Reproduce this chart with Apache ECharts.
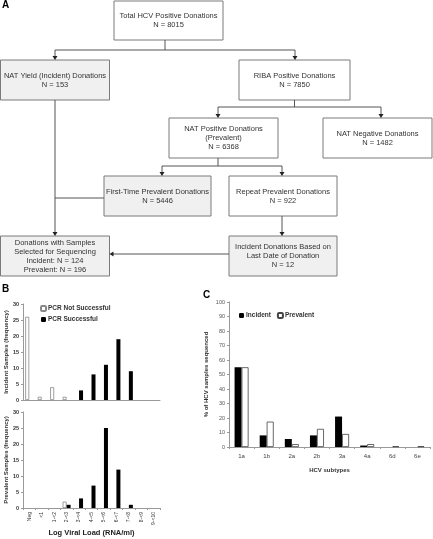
<!DOCTYPE html>
<html><head><meta charset="utf-8">
<script src="https://cdn.jsdelivr.net/npm/echarts@6/dist/echarts.min.js"></script>
<style>html,body{margin:0;padding:0;background:#fff}#c{width:433px;height:539px}</style>
</head><body><div id="c"></div>
<script>
// ---- Panel A data ----
const flowTitles = ['Total HCV Positive Donations','NAT Yield (Incident) Donations','RIBA Positive Donations','NAT Positive Donations\n(Prevalent)','NAT Negative Donations','First-Time Prevalent Donations','Repeat Prevalent Donations','Donations with Samples\nSelected for Sequencing','Incident Donations Based on\nLast Date of Donation'];
const flowCounts = ['N = 8015','N = 153','N = 7850','N = 6368','N = 1482','N = 5446','N = 922','Incident: N = 124\nPrevalent: N = 196','N = 12'];
// ---- Panel B data ----
const viralLoadBins = ['Neg','<1','1-<2','2-<3','3-<4','4-<5','5-<6','6-<7','7-<8','8-<9','9-<10'];
const incidentNotSuccessful = [26,1,4,1,0,0,0,0,0,0,0];
const incidentSuccessful    = [0,0,0,0,3,8,11,19,9,0,0];
const prevalentNotSuccessful= [0,0,0,2,0,0,0,0,0,0,0];
const prevalentSuccessful   = [0,0,0,1,3,7,25,12,1,0,0];
// ---- Panel C data ----
const subtypes = ['1a','1b','2a','2b','3a','4a','6d','6e'];
const pctIncident  = [55,8,5.5,8,21,1,0,0];
const pctPrevalent = [55,17.5,2,12.5,9,2,0.5,0.5];

const FONT = 'Liberation Sans';
const nz = arr => arr.map(v => v === 0 ? '-' : v);
// flowchart layout
const boxes = [
  {x:114,y:1,w:109,h:39,fill:'#fff'},
  {x:0.5,y:60,w:109,h:40,fill:'#f0f0f0'},
  {x:239,y:60,w:111,h:40,fill:'#fff'},
  {x:169,y:118,w:109,h:40,fill:'#fff'},
  {x:323,y:118,w:109,h:40,fill:'#fff'},
  {x:104,y:176,w:107,h:40,fill:'#f0f0f0'},
  {x:229,y:176,w:108,h:40,fill:'#fff'},
  {x:0.5,y:236,w:109,h:40,fill:'#f0f0f0'},
  {x:229,y:236,w:108,h:40,fill:'#f0f0f0'}
];
const lines = [
  [[165,40],[165,50]],[[55,50],[295,50]],[[55,50],[55,57]],[[295,50],[295,57]],
  [[294.5,100],[294.5,107]],[[218,107],[381,107]],[[218,107],[218,115]],[[381,107],[381,115]],
  [[218,158],[218,166]],[[162,166],[282,166]],[[162,166],[162,173]],[[282,166],[282,173]],
  [[55,100],[55,233]],[[104,198],[55,198]],
  [[282,216],[282,233]],
  [[229,254],[112,254]]
];
const arrows = [[55,60,'d'],[295,60,'d'],[218,118,'d'],[381,118,'d'],[162,176,'d'],[282,176,'d'],[55,236,'d'],[282,236,'d'],[109.5,254,'l']];

const graphic = [];
boxes.forEach((b,i)=>{
  graphic.push({type:'rect',shape:{x:b.x,y:b.y,width:b.w,height:b.h},style:{fill:b.fill,stroke:'#7a7a7a',lineWidth:1}});
  graphic.push({type:'text',x:b.x+b.w/2,y:b.y+b.h/2,style:{text:flowTitles[i]+'\n'+flowCounts[i],fontFamily:FONT,fontSize:7.5,lineHeight:9,fill:'#333',align:'center',verticalAlign:'middle'}});
});
lines.forEach(l=>graphic.push({type:'polyline',shape:{points:l},style:{stroke:'#555',lineWidth:1}}));
arrows.forEach(a=>{
  const [x,y,d]=a;
  const pts = d==='d' ? [[x-2.5,y-4],[x+2.5,y-4],[x,y]] : [[x+4,y-2.5],[x+4,y+2.5],[x,y]];
  graphic.push({type:'polygon',shape:{points:pts},style:{fill:'#222'}});
});
[['A',2,0],['B',2,284],['C',203,290]].forEach(t=>graphic.push({type:'text',x:t[1],y:t[2],style:{text:t[0],fontFamily:FONT,fontWeight:'bold',fontSize:10,fill:'#000'}}));

const axisGray = {lineStyle:{color:'#999',width:1}};
const yLab = {fontFamily:FONT,fontSize:5.5,fontWeight:'bold',color:'#333',margin:4};
const bNameStyle = {fontFamily:FONT,fontSize:6,fontWeight:'bold',color:'#333'};

const option = {
  animation:false,
  graphic: graphic,
  grid:[
    {left:23,top:304,width:137,height:96},
    {left:23,top:412,width:137,height:96},
    {left:229,top:302,width:201,height:145}
  ],
  legend:[
    {data:['PCR Not Successful','PCR Successful'],orient:'vertical',left:35,top:300,itemWidth:5,itemHeight:5,itemGap:4,
     textStyle:{fontFamily:FONT,fontSize:6.5,fontWeight:'bold',color:'#333',padding:[0,0,0,-3]}},
    {data:['Incident','Prevalent'],orient:'horizontal',left:234,top:307,itemWidth:5,itemHeight:5,itemGap:6,
     textStyle:{fontFamily:FONT,fontSize:6.5,fontWeight:'bold',color:'#333',padding:[0,0,0,-3]}}
  ],
  xAxis:[
    {type:'category',gridIndex:0,data:viralLoadBins,axisLine:axisGray,axisTick:{show:false},axisLabel:{show:false}},
    {type:'category',gridIndex:1,data:viralLoadBins,axisLine:axisGray,axisTick:{show:true,lineStyle:{color:'#999'},length:2},
     axisLabel:{rotate:90,fontFamily:FONT,fontSize:5,color:'#333',margin:4},
     name:'Log Viral Load (RNA/ml)',nameLocation:'middle',nameGap:20,nameTextStyle:{fontFamily:FONT,fontSize:7.5,fontWeight:'bold',color:'#222'}},
    {type:'category',gridIndex:2,data:subtypes,axisLine:axisGray,axisTick:{show:true,lineStyle:{color:'#999'},length:2},
     axisLabel:{fontFamily:FONT,fontSize:6,color:'#444',margin:6},
     name:'HCV subtypes',nameLocation:'middle',nameGap:20,nameTextStyle:{fontFamily:FONT,fontSize:6,fontWeight:'bold',color:'#333'}}
  ],
  yAxis:[
    {type:'value',gridIndex:0,min:0,max:30,interval:5,axisLine:{show:true,...axisGray},axisTick:{show:true,length:2,lineStyle:{color:'#999'}},splitLine:{show:false},axisLabel:yLab,
     name:'Incident Samples (frequency)',nameLocation:'middle',nameGap:14,nameTextStyle:bNameStyle},
    {type:'value',gridIndex:1,min:0,max:30,interval:5,axisLine:{show:true,...axisGray},axisTick:{show:true,length:2,lineStyle:{color:'#999'}},splitLine:{show:false},axisLabel:yLab,
     name:'Prevalent Samples (frequency)',nameLocation:'middle',nameGap:14,nameTextStyle:bNameStyle},
    {type:'value',gridIndex:2,min:0,max:100,interval:10,axisLine:{show:true,...axisGray},axisTick:{show:true,length:2,lineStyle:{color:'#999'}},splitLine:{show:false},
     axisLabel:{fontFamily:FONT,fontSize:5.5,color:'#555',margin:4},
     name:'% of HCV samples sequenced',nameLocation:'middle',nameGap:20,nameTextStyle:{fontFamily:FONT,fontSize:6,fontWeight:'bold',color:'#333'}}
  ],
  series:[
    {name:'PCR Not Successful',type:'bar',xAxisIndex:0,yAxisIndex:0,data:nz(incidentNotSuccessful),barWidth:4,barGap:'0%',itemStyle:{color:'#fff',borderColor:'#888',borderWidth:0.8}},
    {name:'PCR Successful',type:'bar',xAxisIndex:0,yAxisIndex:0,data:nz(incidentSuccessful),barWidth:4,barGap:'0%',itemStyle:{color:'#000'}},
    {name:'PCR Not Successful',type:'bar',xAxisIndex:1,yAxisIndex:1,data:nz(prevalentNotSuccessful),barWidth:4,barGap:'0%',itemStyle:{color:'#fff',borderColor:'#888',borderWidth:0.8}},
    {name:'PCR Successful',type:'bar',xAxisIndex:1,yAxisIndex:1,data:nz(prevalentSuccessful),barWidth:4,barGap:'0%',itemStyle:{color:'#000'}},
    {name:'Incident',type:'bar',xAxisIndex:2,yAxisIndex:2,data:nz(pctIncident),barWidth:7,barGap:'0%',itemStyle:{color:'#000'}},
    {name:'Prevalent',type:'bar',xAxisIndex:2,yAxisIndex:2,data:pctPrevalent,barWidth:7,barGap:'0%',itemStyle:{color:'#fff',borderColor:'#444',borderWidth:0.8}}
  ]
};
const chart = echarts.init(document.getElementById('c'),null,{renderer:'canvas'});
chart.setOption(option);
</script></body></html>
